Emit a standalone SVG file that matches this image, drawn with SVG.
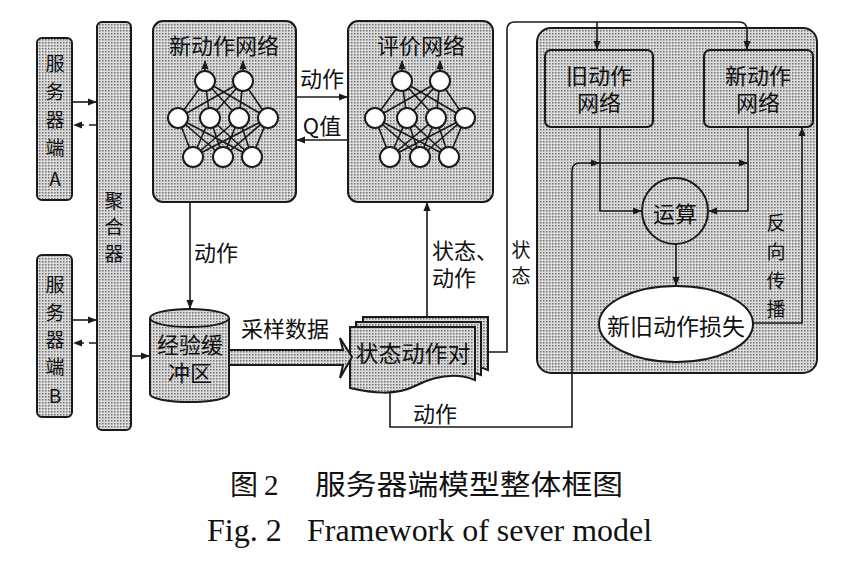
<svg xmlns="http://www.w3.org/2000/svg" width="848" height="571" viewBox="0 0 848 571">
<style>
.box{fill:url(#hatch);stroke:#1a1a1a;stroke-width:2}
.ln{fill:none;stroke:#1a1a1a;stroke-width:1.6}
.arr{marker-end:url(#ah)}
.dash{stroke-dasharray:7,5}
.t{font-family:"Noto Sans CJK SC","Noto Sans",sans-serif;font-size:22px;fill:#111;text-anchor:middle;dominant-baseline:central}
.v{font-size:19px}
.ts{text-anchor:start}
.cap{font-family:"Liberation Serif","Noto Sans CJK SC",serif;fill:#111}
.node{fill:#fff;stroke:#1a1a1a;stroke-width:2}
</style>
<defs>
<pattern id="hatch" width="3" height="3" patternUnits="userSpaceOnUse">
<rect width="3" height="3" fill="#dcdcdc"/>
<rect width="1.5" height="1.5" fill="#6e6e6e"/>
</pattern>
<marker id="ah" viewBox="0 0 10 10" refX="9" refY="5" markerWidth="9" markerHeight="9" markerUnits="userSpaceOnUse" orient="auto">
<path d="M0,1 L10,5 L0,9 z" fill="#1a1a1a"/>
</marker>
<g id="nn">
<path class="ln" stroke-width="1.4" d="M205,81L178,118M205,81L210,118M205,81L239,118M205,81L268,118M243,81L178,118M243,81L210,118M243,81L239,118M243,81L268,118M178,118L193,157M178,118L223,157M178,118L252,157M210,118L193,157M210,118L223,157M210,118L252,157M239,118L193,157M239,118L223,157M239,118L252,157M268,118L193,157M268,118L223,157M268,118L252,157"/>
<path class="ln arr" d="M205,71V61"/>
<path class="ln arr" d="M243,71V61"/>
<circle class="node" cx="205" cy="81" r="10"/>
<circle class="node" cx="243" cy="81" r="10"/>
<circle class="node" cx="178" cy="118" r="10"/>
<circle class="node" cx="210" cy="118" r="10"/>
<circle class="node" cx="239" cy="118" r="10"/>
<circle class="node" cx="268" cy="118" r="10"/>
<circle class="node" cx="193" cy="157" r="10"/>
<circle class="node" cx="223" cy="157" r="10"/>
<circle class="node" cx="252" cy="157" r="10"/>
</g>
</defs>
<rect width="848" height="571" fill="#fff"/>

<g id="serverA">
<rect class="box" x="37" y="38" width="35" height="162" rx="5"/>
<text class="t v"><tspan x="55" y="62">服</tspan><tspan x="55" y="90">务</tspan><tspan x="55" y="118">器</tspan><tspan x="55" y="146">端</tspan><tspan x="55" y="177">A</tspan></text>
</g>
<g id="serverB">
<rect class="box" x="37" y="255" width="35" height="162" rx="5"/>
<text class="t v"><tspan x="55" y="283">服</tspan><tspan x="55" y="311">务</tspan><tspan x="55" y="338">器</tspan><tspan x="55" y="365">端</tspan><tspan x="55" y="394">B</tspan></text>
</g>
<g id="aggregator">
<rect class="box" x="97" y="22" width="34" height="408" rx="5"/>
<text class="t v"><tspan x="114" y="199">聚</tspan><tspan x="114" y="225">合</tspan><tspan x="114" y="252">器</tspan></text>
</g>
<g id="newActorNet">
<rect class="box" x="153" y="21" width="143" height="181" rx="10"/>
<text class="t" x="224" y="44">新动作网络</text>
<use href="#nn"/>
</g>
<g id="criticNet">
<rect class="box" x="348" y="21" width="145" height="181" rx="10"/>
<text class="t" x="421" y="44">评价网络</text>
<use href="#nn" transform="translate(197,0)"/>
</g>
<g id="buffer">
<path class="box" d="M150,318 V394 A39.5,8 0 0 0 229,394 V318"/>
<ellipse class="box" cx="189.5" cy="318" rx="39.5" ry="9"/>
<text class="t" x="190" y="343">经验缓</text>
<text class="t" x="190" y="371">冲区</text>
</g>
<g id="docs">
<path class="box" d="M363,317 H488 V370 C468,362 448,366 428,376 C408,386 385,383 363,378 Z"/>
<path class="box" d="M356,322 H481 V375 C461,367 441,371 421,381 C401,391 378,388 356,383 Z"/>
<path class="box" d="M350,327 H475 V380 C455,372 435,376 415,386 C395,396 372,393 350,388 Z"/>
<text class="t" x="413" y="352" style="font-size:23px">状态动作对</text>
</g>
<g id="trainer">
<rect class="box" x="537" y="28" width="280" height="345" rx="14"/>
</g>
<g id="oldNet">
<rect class="box" x="545" y="50" width="108" height="77" rx="6"/>
<text class="t" x="599" y="74">旧动作</text>
<text class="t" x="599" y="101">网络</text>
</g>
<g id="newNet2">
<rect class="box" x="704" y="50" width="109" height="77" rx="6"/>
<text class="t" x="758" y="74">新动作</text>
<text class="t" x="758" y="101">网络</text>
</g>
<g id="compute">
<circle class="box" cx="675" cy="211" r="33"/>
<text class="t" x="675" y="212">运算</text>
</g>
<g id="loss">
<ellipse cx="676" cy="324" rx="77" ry="38" fill="#fff" stroke="#1a1a1a" stroke-width="2"/>
<text class="t" x="676" y="325" style="font-size:23px">新旧动作损失</text>
</g>

<g id="connectors">
<path class="ln arr" d="M73,102H96"/>
<path class="ln arr dash" d="M96,125H74"/>
<path class="ln arr" d="M73,320H96"/>
<path class="ln arr dash" d="M96,343H74"/>
<path class="ln arr" d="M131,356H149"/>
<path class="ln arr" d="M296,97H347"/>
<path class="ln arr" d="M348,140H297"/>
<path class="ln arr" d="M190,202V308"/>
<path class="box" stroke-width="1.6" d="M229,350H343L340,338L352,357L340,378L343,365H229Z"/>
<path class="ln arr" d="M427,317V203"/>
<path class="ln" d="M488,352H507V30Q507,22 515,22H739Q747,22 747,30V49"/>
<path class="ln arr" d="M747,40V49"/>
<path class="ln arr" d="M597,22V49"/>
<path class="ln" d="M390,392V427H572V171Q572,163 580,163H747"/>
<path class="ln arr" d="M590,163H599"/>
<path class="ln arr" d="M738,163H747"/>
<path class="ln arr" d="M600,127V211H641"/>
<path class="ln arr" d="M748,127V211H709"/>
<path class="ln arr" d="M676,244V285"/>
<path class="ln arr" d="M753,323H802V128"/>
</g>

<g id="labels">
<text class="t" x="322" y="77">动作</text>
<text class="t" x="322" y="124">Q值</text>
<text class="t ts" x="194" y="251">动作</text>
<text class="t" x="285" y="327">采样数据</text>
<text class="t ts" x="432" y="249">状态、</text>
<text class="t ts" x="432" y="276">动作</text>
<text class="t v" x="521" y="248">状</text>
<text class="t v" x="521" y="274">态</text>
<text class="t" x="435" y="412">动作</text>
<text class="t v"><tspan x="776" y="221">反</tspan><tspan x="776" y="250">向</tspan><tspan x="776" y="279">传</tspan><tspan x="776" y="307">播</tspan></text>
</g>

<g id="caption">
<text class="cap" x="230" y="495" style="font-size:28px;font-family:'Noto Sans CJK SC',sans-serif">图</text>
<text class="cap" x="264" y="495" style="font-size:29px">2</text>
<text class="cap" x="315" y="495" textLength="308" lengthAdjust="spacingAndGlyphs" style="font-size:28px;font-family:'Noto Sans CJK SC',sans-serif">服务器端模型整体框图</text>
<text class="cap" x="207" y="541" style="font-size:32px">Fig. 2</text>
<text class="cap" x="307" y="541" textLength="345" lengthAdjust="spacingAndGlyphs" style="font-size:32px">Framework of sever model</text>
</g>
</svg>
